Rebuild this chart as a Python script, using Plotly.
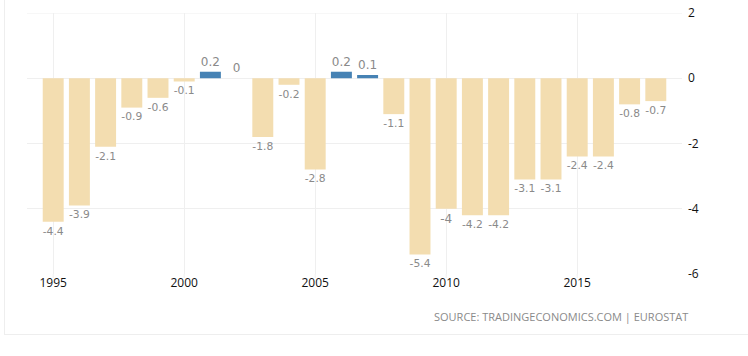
import plotly.graph_objects as go

years = list(range(1995, 2019))
values = [-4.4, -3.9, -2.1, -0.9, -0.6, -0.1, 0.2, 0, -1.8, -0.2, -2.8, 0.2, 0.1,
          -1.1, -5.4, -4, -4.2, -4.2, -3.1, -3.1, -2.4, -2.4, -0.8, -0.7]
labels = ["-4.4", "-3.9", "-2.1", "-0.9", "-0.6", "-0.1", "0.2", "0", "-1.8", "-0.2",
          "-2.8", "0.2", "0.1", "-1.1", "-5.4", "-4", "-4.2", "-4.2", "-3.1", "-3.1",
          "-2.4", "-2.4", "-0.8", "-0.7"]
x_ticks = [1995, 2000, 2005, 2010, 2015]
y_ticks = [2, 0, -2, -4, -6]
source_text = "SOURCE: TRADINGECONOMICS.COM | EUROSTAT"

POS = "#4682B4"
NEG = "#F3DDB0"
colors = [POS if v > 0 else NEG for v in values]

W, H = 748, 356
PL, PR, PT, PB = 27, 682, 13, 274  # plot area in page pixels
GRID = "#efefef"


def px_x(p):
    return (p - PL) / (PR - PL)


def px_y(p):
    return (PB - p) / (PB - PT)


fig = go.Figure()
fig.add_trace(go.Bar(
    x=years, y=values, text=labels, textposition="outside",
    marker=dict(color=colors, line=dict(width=0)),
    width=0.8,
    textfont=dict(family="DejaVu Sans", size=12, color="#8a8a8a"),
    cliponaxis=False,
    hoverinfo="skip",
))

shapes = [
    # top gridline at y = 2
    dict(type="line", xref="paper", yref="y", x0=0, x1=1, y0=2, y1=2,
         line=dict(color=GRID, width=1), layer="below"),
    # container border (left and bottom)
    dict(type="line", xref="paper", yref="paper",
         x0=px_x(4), x1=px_x(760), y0=px_y(334.5), y1=px_y(334.5),
         line=dict(color="#eeeeee", width=1)),
    dict(type="line", xref="paper", yref="paper",
         x0=px_x(4.5), x1=px_x(4.5), y0=px_y(334.5), y1=px_y(-5),
         line=dict(color="#eeeeee", width=1)),
]
# short tick marks below the x axis
for t in x_ticks:
    shapes.append(dict(type="line", xref="x", yref="paper", x0=t, x1=t,
                       y0=0, y1=px_y(278), line=dict(color=GRID, width=1)))

fig.update_layout(
    width=W, height=H,
    margin=dict(l=PL, r=W - PR, t=PT, b=H - PB, pad=0),
    paper_bgcolor="white", plot_bgcolor="white",
    showlegend=False,
    font=dict(family="Open Sans", size=12, color="#222"),
    xaxis=dict(
        range=[1994, 2019], tickvals=x_ticks, ticktext=[str(t) for t in x_ticks],
        showgrid=True, gridcolor=GRID, gridwidth=1,
        ticks="", zeroline=False, showline=False, automargin=False,
        tickfont=dict(family="Open Sans", size=12, color="#111"),
    ),
    yaxis=dict(
        range=[-6, 2], tickvals=y_ticks, ticktext=[str(t) for t in y_ticks],
        side="right", showgrid=True, gridcolor=GRID, gridwidth=1,
        zeroline=True, zerolinecolor=GRID, zerolinewidth=1,
        showline=False, ticks="", ticklabelstandoff=5, automargin=False,
        ticklabeloverflow="allow",
        tickfont=dict(family="Open Sans", size=12, color="#111"),
    ),
    annotations=[dict(
        text=source_text, xref="paper", yref="paper",
        x=px_x(690), y=px_y(316), xanchor="right", yanchor="middle",
        showarrow=False, font=dict(family="Open Sans", size=11, color="#8a8a8a"),
    )],
    shapes=shapes,
)

fig.write_html("out.html",
               config={"displayModeBar": False},
               post_script="document.body.style.margin='0px';document.body.style.overflow='hidden';")
